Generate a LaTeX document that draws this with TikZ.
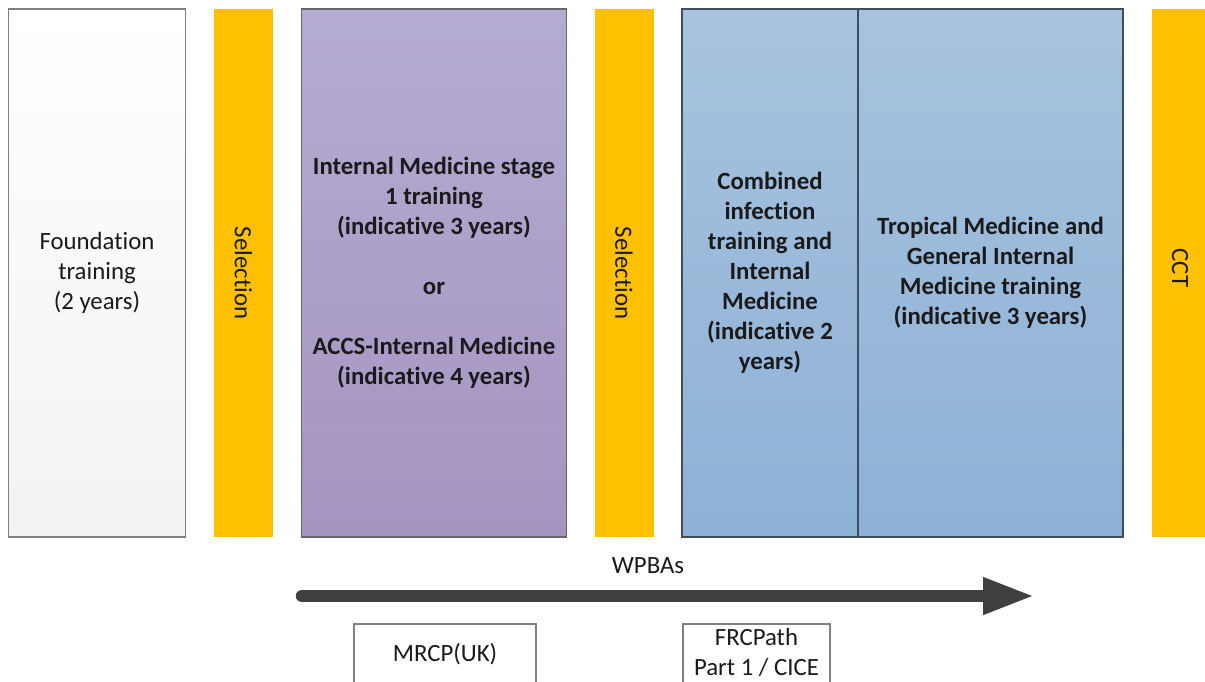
\documentclass[tikz,border=0pt]{standalone}
\usepackage{fontspec}
\setmainfont{Carlito}[Ligatures=NoCommon]
\usetikzlibrary{arrows.meta}
\definecolor{selorange}{HTML}{FFC000}
\definecolor{purtop}{HTML}{B5ACD2}
\definecolor{purbot}{HTML}{A494C1}
\definecolor{bluetop}{HTML}{A8C3DF}
\definecolor{bluebot}{HTML}{8DB1D6}
\definecolor{bluebord}{HTML}{3F4D5C}
\definecolor{greybord}{HTML}{808080}
\definecolor{arrowgrey}{HTML}{404040}
\definecolor{txt}{HTML}{1A1A1A}
\tikzset{
  base/.style={inner sep=0pt, outer sep=0pt, text=txt, align=center, font=\fontsize{24.8}{30}\selectfont},
  stagebox/.style={base, minimum height=528pt, draw, line width=1.2pt},
  foundbox/.style={stagebox, draw=greybord, top color=white, bottom color=black!5},
  purplebox/.style={stagebox, draw=greybord!80!black, top color=purtop, bottom color=purbot, font=\fontsize{24.8}{30}\selectfont\bfseries},
  bluebox/.style={stagebox, draw=bluebord, top color=bluetop, bottom color=bluebot, font=\fontsize{24.8}{30}\selectfont\bfseries},
  selbar/.style={base, minimum height=528pt, minimum width=59pt, fill=selorange},
  exambox/.style={base, draw=greybord, line width=1.2pt, fill=white, minimum height=66pt},
  bigarrow/.style={draw=arrowgrey, line width=12.5pt, line cap=round, -{Triangle[length=52pt,width=34pt,fill=arrowgrey]}}
}
\begin{document}
\begin{tikzpicture}[x=1pt,y=-1pt]
\useasboundingbox (0,0) rectangle (1205,682);
\clip (0,0) rectangle (1205,682);
\fill[white] (0,0) rectangle (1205,682);
% stages
\node[foundbox, minimum width=177pt] (found) at (97,273) {Foundation\\training\\(2 years)};
\node[selbar] (sel1) at (243.5,273) {};
\node[base, rotate=-90] (sel1t) at (sel1.center) {Selection};
\node[purplebox, minimum width=265pt] (imt) at (434,273) {Internal Medicine stage\\1 training\\(indicative 3 years)\\[30pt]or\\[30pt]ACCS-Internal Medicine\\(indicative 4 years)};
\node[selbar] (sel2) at (624,273) {};
\node[base, rotate=-90] (sel2t) at (sel2.center) {Selection};
\node[bluebox, minimum width=176pt] (comb) at (770,273) {Combined\\infection\\training and\\Internal\\Medicine\\(indicative 2\\years)};
\node[bluebox, minimum width=265pt] (trop) at (990.5,273) {Tropical Medicine and\\General Internal\\Medicine training\\(indicative 3 years)};
\node[selbar, minimum width=62pt] (cct) at (1183,273) {};
\node[base, rotate=-90] (cctt) at (1180,268) {CCT};
% WPBA arrow
\node[base] (wpba) at (648,566) {WPBAs};
\coordinate (astart) at (302,596);
\coordinate (aend) at (1035,596);
\draw[bigarrow] (astart) -- (aend);
% exams
\node[exambox, minimum width=182pt] (mrcp) at (445,657) {};
\node[base] (mrcpt) at (445,654) {MRCP(UK)};
\node[exambox, minimum width=147pt] (frc) at (756.5,657) {};
\node[base] (frct) at (756.5,652) {FRCPath\\Part 1 / CICE};
\end{tikzpicture}
\end{document}
